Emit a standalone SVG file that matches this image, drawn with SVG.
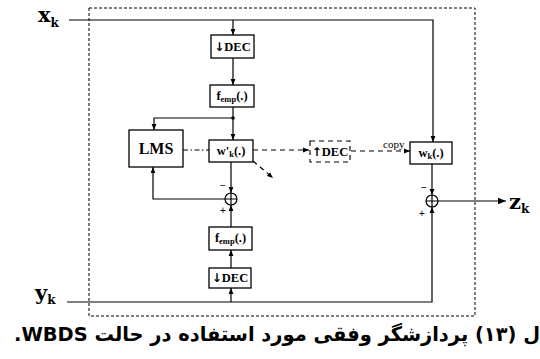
<svg xmlns="http://www.w3.org/2000/svg" width="540" height="359" viewBox="0 0 540 359">
<defs>
<marker id="ah" viewBox="0 0 10 10" refX="10" refY="5" markerWidth="6" markerHeight="6" markerUnits="userSpaceOnUse" orient="auto"><path d="M0,1 L10,5 L0,9 z" fill="#000"/></marker>
<marker id="ahb" viewBox="0 0 10 10" refX="10" refY="5" markerWidth="9" markerHeight="8" markerUnits="userSpaceOnUse" orient="auto"><path d="M0,1 L10,5 L0,9 z" fill="#000"/></marker>
<style>
.box{fill:#fff;stroke:#000;stroke-width:1.3}
.ln{fill:none;stroke:#000;stroke-width:1.2}
.dash{stroke-dasharray:5,4}
.dd{stroke-dasharray:5,2.5,1.5,2.5}
.outer{fill:none;stroke:#000;stroke-width:1;stroke-dasharray:3,2}
.t{font-family:"Liberation Serif","DejaVu Serif",serif;font-weight:bold;font-size:12.5px;text-anchor:middle;fill:#000}
.arr{font-family:"DejaVu Sans",sans-serif;font-size:12px}
.sig{font-family:"DejaVu Serif","Liberation Serif",serif;font-weight:bold;font-size:21px;fill:#000}
.sub{font-size:12px}
.pm{font-family:"Liberation Sans","DejaVu Sans",sans-serif;font-size:10px;fill:#000;text-anchor:middle}
.cap{font-family:"DejaVu Sans","Liberation Serif",sans-serif;font-weight:bold;font-size:20px;fill:#000}
</style>
</defs>

<rect class="outer" x="89" y="8" width="386" height="308"/>

<g id="connectors">
<path class="ln" d="M69,20 H433 V142" marker-end="url(#ah)"/>
<path class="ln" d="M233,20 V35" marker-end="url(#ah)"/>
<path class="ln" d="M233,58 V85" marker-end="url(#ah)"/>
<path class="ln" d="M233,107 V140" marker-end="url(#ah)"/>
<path class="ln" d="M233,118 H154 V130" marker-end="url(#ah)"/>
<circle cx="233" cy="118" r="1.8" fill="#000"/>
<path class="ln dd" d="M183,150 H209"/>
<path class="ln dash" d="M253,150 H309" marker-end="url(#ah)"/>
<path class="ln dash" d="M351,151 H410" marker-end="url(#ah)"/>
<path class="ln dash" d="M253,161 L273,178" marker-end="url(#ah)"/>
<path class="ln" d="M231,162 V193" marker-end="url(#ah)"/>
<path class="ln" d="M225,199 H153 V167" marker-end="url(#ah)"/>
<path class="ln" d="M231,227 V205" marker-end="url(#ah)"/>
<path class="ln" d="M231,268 V250" marker-end="url(#ah)"/>
<path class="ln" d="M231,302 V288" marker-end="url(#ah)"/>
<path class="ln" d="M67,302 H432 V207" marker-end="url(#ah)"/>
<path class="ln" d="M432,164 V195" marker-end="url(#ah)"/>
<path class="ln" d="M438,201 H506" marker-end="url(#ahb)"/>
</g>

<g id="dec-top">
<rect class="box" x="211" y="35" width="43" height="23"/>
<text class="t" x="232.5" y="51"><tspan class="arr">↓</tspan>DEC</text>
</g>
<g id="femp-top">
<rect class="box" x="210" y="85" width="44" height="22"/>
<text class="t" x="232" y="100">f<tspan font-size="8.5" dy="2">emp</tspan><tspan dy="-2">(.)</tspan></text>
</g>
<g id="lms">
<rect class="box" x="129" y="130" width="54" height="37"/>
<text class="t" x="156" y="154" style="font-size:16px">LMS</text>
</g>
<g id="wprime">
<rect class="box" x="209" y="140" width="44" height="22"/>
<text class="t" x="231" y="155">w'<tspan font-size="8.5" dy="2">k</tspan><tspan dy="-2">(.)</tspan></text>
</g>
<g id="dec-up">
<rect x="310" y="141" width="40" height="21" fill="#fff" stroke="#000" stroke-width="1.1" stroke-dasharray="5,4"/>
<text class="t" x="330" y="156"><tspan class="arr">↑</tspan>DEC</text>
</g>
<g id="copy-label">
<text x="383" y="148" style="font-family:'Liberation Serif',serif;font-size:11px;fill:#000">copy</text>
</g>
<g id="wk">
<rect class="box" x="410" y="142" width="42" height="22"/>
<text class="t" x="431" y="157">w<tspan font-size="8.5" dy="2">k</tspan><tspan dy="-2">(.)</tspan></text>
</g>
<g id="sum-left">
<circle cx="231" cy="199" r="6" fill="#fff" stroke="#000" stroke-width="1.2"/>
<path class="ln" d="M225,199 H237 M231,193 V205"/>
<text class="pm" x="223" y="189">−</text>
<text class="pm" x="223" y="214">+</text>
</g>
<g id="femp-bottom">
<rect class="box" x="209" y="227" width="43" height="23"/>
<text class="t" x="230.5" y="242">f<tspan font-size="8.5" dy="2">emp</tspan><tspan dy="-2">(.)</tspan></text>
</g>
<g id="dec-bottom">
<rect class="box" x="209" y="268" width="42" height="20"/>
<text class="t" x="230" y="282"><tspan class="arr">↓</tspan>DEC</text>
</g>
<g id="sum-right">
<circle cx="432" cy="201" r="6" fill="#fff" stroke="#000" stroke-width="1.2"/>
<path class="ln" d="M426,201 H438 M432,195 V207"/>
<text class="pm" x="424" y="191">−</text>
<text class="pm" x="422" y="217">+</text>
</g>
<g id="xk"><text class="sig" x="38" y="22">x<tspan class="sub" dy="5">k</tspan></text></g>
<g id="yk"><text class="sig" x="35" y="300">y<tspan class="sub" dy="4">k</tspan></text></g>
<g id="zk"><text class="sig" x="509" y="209">z<tspan class="sub" dy="4">k</tspan></text></g>

<g id="caption">
<text class="cap" x="540" y="341" direction="rtl" unicode-bidi="embed" textLength="526" lengthAdjust="spacingAndGlyphs">ل (۱۳) پردازشگر وفقی مورد استفاده در حالت WBDS.</text>
</g>
</svg>
